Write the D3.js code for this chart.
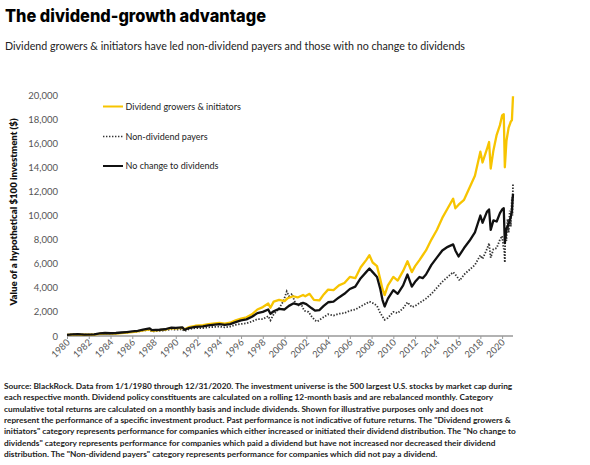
<!DOCTYPE html>
<html><head><meta charset="utf-8">
<script src="https://cdn.jsdelivr.net/npm/d3@7"></script>
<style>
body{margin:0;background:#fff;}
svg{display:block;}
</style></head>
<body><svg id="c" width="590" height="465"></svg>
<script>
const titleText = "The dividend-growth advantage";
const subtitleText = "Dividend growers & initiators have led non-dividend payers and those with no change to dividends";
const yAxisTitle = "Value of a hypothetical $100 investment ($)";
const yTicks = [0,2000,4000,6000,8000,10000,12000,14000,16000,18000,20000];
const xTicks = d3.range(1980, 2021, 2);
const seriesNames = ["Dividend growers & initiators","Non-dividend payers","No change to dividends"];
const footnoteLines = [
"Source: BlackRock. Data from 1/1/1980 through 12/31/2020. The investment universe is the 500 largest U.S. stocks by market cap during",
"each respective month. Dividend policy constituents are calculated on a rolling 12-month basis and are rebalanced monthly. Category",
"cumulative total returns are calculated on a monthly basis and include dividends. Shown for illustrative purposes only and does not",
"represent the performance of a specific investment product. Past performance is not indicative of future returns. The \"Dividend growers &",
"initiators\" category represents performance for companies which either increased or initiated their dividend distribution. The \"No change to",
"dividends\" category represents performance for companies which paid a dividend but have not increased nor decreased their dividend",
"distribution. The \"Non-dividend payers\" category represents performance for companies which did not pay a dividend."
];

// [year, value]
const growers = [
[1980.0,100],[1980.5,110],[1981.0,120],[1981.6,105],[1982.5,120],[1983.0,170],[1983.5,200],[1984.0,190],[1984.5,200],
[1985.0,240],[1985.5,280],[1986.0,330],[1986.5,380],[1987.0,470],[1987.6,560],[1987.8,430],[1988.5,480],[1989.0,530],
[1989.6,650],[1990.0,640],[1990.6,680],[1990.8,560],[1991.2,730],[1991.8,850],[1992.5,900],[1993.0,980],[1993.6,1050],
[1994.0,1080],[1994.5,1020],[1995.0,1100],[1995.5,1300],[1996.0,1450],[1996.5,1550],[1997.0,1800],[1997.5,2200],
[1998.0,2400],[1998.5,2700],[1998.7,2350],[1999.0,2850],[1999.5,3000],[2000.0,2900],[2000.3,3150],[2000.8,3300],
[2001.2,3200],[2001.7,3400],[2001.9,3300],[2002.3,3500],[2002.7,3000],[2003.2,2950],[2003.6,3450],[2004.0,3850],
[2004.5,3800],[2005.0,4200],[2005.5,4400],[2006.0,4900],[2006.5,4800],[2007.0,5700],[2007.5,6300],[2007.8,6700],
[2008.1,6100],[2008.5,5800],[2008.8,4700],[2009.0,3900],[2009.2,3400],[2009.5,4200],[2010.0,4900],[2010.4,4600],
[2010.9,5400],[2011.3,6200],[2011.7,5300],[2012.0,5800],[2012.4,6300],[2012.7,6700],[2013.0,7100],[2013.5,8000],
[2014.0,8800],[2014.5,9800],[2015.0,10600],[2015.5,11400],[2015.7,10600],[2016.0,10900],[2016.5,11300],[2017.0,12300],
[2017.5,13300],[2018.0,15300],[2018.2,14400],[2018.6,15500],[2018.8,16100],[2018.95,13900],[2019.2,15400],[2019.5,16700],
[2019.8,17500],[2020.0,18300],[2020.15,18400],[2020.25,14000],[2020.4,16200],[2020.6,17300],[2020.8,17800],[2020.9,17900],
[2021.0,19900]
];
const noChange = [
[1980.0,100],[1980.5,130],[1981.0,150],[1981.6,120],[1982.5,140],[1983.0,210],[1983.5,250],[1984.0,230],[1984.5,250],
[1985.0,290],[1985.5,330],[1986.0,380],[1986.5,420],[1987.0,520],[1987.6,640],[1987.8,480],[1988.5,520],[1989.0,560],
[1989.6,700],[1990.0,680],[1990.6,720],[1990.8,520],[1991.2,650],[1991.8,760],[1992.5,800],[1993.0,880],[1993.6,950],
[1994.0,980],[1994.5,920],[1995.0,980],[1995.5,1150],[1996.0,1300],[1996.5,1380],[1997.0,1600],[1997.5,1900],
[1998.0,2000],[1998.5,2200],[1998.7,1850],[1999.0,2050],[1999.5,2250],[2000.0,2200],[2000.4,2500],[2000.8,2700],
[2001.3,2600],[2001.7,2750],[2002.0,2650],[2002.5,2300],[2002.8,2100],[2003.2,2150],[2003.6,2500],[2004.0,2800],
[2004.5,2850],[2005.0,3200],[2005.5,3500],[2006.0,3900],[2006.5,4100],[2007.0,4800],[2007.5,5300],[2007.8,5600],
[2008.1,5300],[2008.5,4900],[2008.8,3900],[2009.0,3000],[2009.2,2450],[2009.5,3100],[2010.0,3800],[2010.4,3500],
[2010.9,4200],[2011.3,5100],[2011.7,4100],[2012.0,4500],[2012.4,4900],[2012.7,4800],[2013.0,5100],[2013.5,5900],
[2014.0,6500],[2014.5,7100],[2015.0,7400],[2015.5,7600],[2015.7,7100],[2016.0,6600],[2016.5,7300],[2017.0,7900],
[2017.5,8600],[2018.0,10000],[2018.2,9400],[2018.6,10300],[2018.8,10500],[2018.95,8800],[2019.2,9600],[2019.5,9500],
[2019.8,10200],[2020.0,10500],[2020.15,10600],[2020.25,7700],[2020.4,8900],[2020.6,9300],[2020.8,9900],[2020.9,10400],
[2021.0,11800]
];
const nonPayers = [
[1980.0,100],[1980.5,140],[1981.0,140],[1981.6,110],[1982.5,130],[1983.0,200],[1983.5,230],[1984.0,200],[1984.5,210],
[1985.0,250],[1985.5,290],[1986.0,340],[1986.5,360],[1987.0,440],[1987.6,520],[1987.8,380],[1988.5,420],[1989.0,460],
[1989.6,560],[1990.0,520],[1990.6,560],[1990.8,400],[1991.2,560],[1991.8,650],[1992.5,660],[1993.0,720],[1993.6,760],
[1994.0,780],[1994.5,720],[1995.0,780],[1995.5,920],[1996.0,1000],[1996.5,1050],[1997.0,1200],[1997.5,1400],
[1998.0,1400],[1998.5,1650],[1998.7,1300],[1999.0,1800],[1999.5,2300],[1999.9,2900],[2000.2,3700],[2000.4,3300],
[2000.7,3500],[2000.9,2900],[2001.2,2500],[2001.5,2700],[2001.8,2100],[2002.2,2000],[2002.5,1600],[2002.8,1300],
[2003.0,1200],[2003.4,1450],[2004.0,1800],[2004.5,1700],[2005.0,1850],[2005.5,1900],[2006.0,2100],[2006.5,2200],
[2007.0,2450],[2007.5,2700],[2007.8,2850],[2008.2,2700],[2008.5,2500],[2008.8,1900],[2009.2,1350],[2009.5,1500],
[2010.0,2000],[2010.4,1900],[2010.9,2300],[2011.3,2800],[2011.7,2400],[2012.0,2500],[2012.5,2800],[2013.0,3100],
[2013.5,3500],[2014.0,4000],[2014.5,4500],[2015.0,4900],[2015.5,5300],[2015.8,5000],[2016.1,4600],[2016.5,5100],
[2017.0,5500],[2017.5,5900],[2018.0,6700],[2018.2,6400],[2018.6,7200],[2018.8,7700],[2018.95,6500],[2019.2,7200],
[2019.5,7300],[2019.8,8000],[2020.0,8300],[2020.1,7500],[2020.2,7000],[2020.25,6100],[2020.3,8800],[2020.4,7900],
[2020.5,9700],[2020.6,8600],[2020.7,10400],[2020.8,9100],[2020.9,11500],[2020.95,10000],[2021.0,12700]
];

const colors = {growers:"#F7C400", nonPayers:"#333", noChange:"#111"};
const svg = d3.select("#c");
const FONT = "Lato, 'Open Sans', sans-serif";

const x = d3.scaleLinear().domain([1980, 2021]).range([67, 513]);
const y = d3.scaleLinear().domain([0, 20000]).range([336, 95]);

// Title
svg.append("text").attr("x",5).attr("y",22).text(titleText)
  .attr("font-family","Inter, Roboto, sans-serif").attr("font-weight",800).attr("font-size",17.5)
  .attr("textLength",261).attr("lengthAdjust","spacingAndGlyphs").attr("fill","#000");
svg.append("text").attr("x",5).attr("y",50).text(subtitleText)
  .attr("font-family",FONT).attr("font-size",10.8).attr("fill","#222")
  .attr("textLength",460).attr("lengthAdjust","spacingAndGlyphs");

// y axis labels
const gy = svg.append("g").attr("transform","translate(60,0)")
  .call(d3.axisLeft(y).tickValues(yTicks).tickSize(0).tickPadding(2).tickFormat(d3.format(",")));
gy.select(".domain").remove();
gy.selectAll("text").attr("font-family",FONT).attr("font-size",9.5).attr("fill","#555");

// x axis
const gx = svg.append("g").attr("transform","translate(0,336)")
  .call(d3.axisBottom(x).tickValues(xTicks).tickSize(3).tickFormat(d3.format("d")));
gx.select(".domain").attr("stroke","#999").attr("stroke-width",1.5).attr("d","M67,0H513");
gx.selectAll(".tick line").attr("stroke","#999");
gx.selectAll("text").attr("font-family",FONT).attr("font-size",9.3).attr("fill","#555")
  .attr("text-anchor","end").attr("dy",0).attr("y",0)
  .attr("transform","translate(3,7) rotate(-45)");

// y title
svg.append("text").attr("transform","translate(17,212) rotate(-90)").attr("text-anchor","middle")
  .text(yAxisTitle).attr("font-family",FONT).attr("font-weight",800).attr("font-size",9.6).attr("fill","#111");

const line = d3.line().x(d=>x(d[0])).y(d=>y(d[1]));
svg.append("path").datum(nonPayers).attr("d",line).attr("fill","none")
  .attr("stroke",colors.nonPayers).attr("stroke-width",1.8).attr("stroke-dasharray","1.4,1.6");
svg.append("path").datum(growers).attr("d",line).attr("fill","none")
  .attr("stroke",colors.growers).attr("stroke-width",2.3).attr("stroke-linejoin","round");
svg.append("path").datum(noChange).attr("d",line).attr("fill","none")
  .attr("stroke",colors.noChange).attr("stroke-width",2.3).attr("stroke-linejoin","round");

// legend
const legY = [106.5, 136.5, 166];
const legStyles = [
  {stroke:colors.growers, dash:null, w:2},
  {stroke:colors.nonPayers, dash:"1.4,1.6", w:1.6},
  {stroke:colors.noChange, dash:null, w:2}
];
seriesNames.forEach((n,i)=>{
  svg.append("line").attr("x1",103).attr("x2",123).attr("y1",legY[i]).attr("y2",legY[i])
    .attr("stroke",legStyles[i].stroke).attr("stroke-width",legStyles[i].w)
    .attr("stroke-dasharray",legStyles[i].dash);
  svg.append("text").attr("x",125.5).attr("y",legY[i]+3.2).text(n)
    .attr("font-family",FONT).attr("font-size",9).attr("fill","#222");
});

// footnote
footnoteLines.forEach((t,i)=>{
  svg.append("text").attr("x",4).attr("y",389+i*11.3).text(t)
    .attr("font-family",FONT).attr("font-weight",700).attr("font-size",8.3).attr("fill","#222");
});
</script></body></html>
